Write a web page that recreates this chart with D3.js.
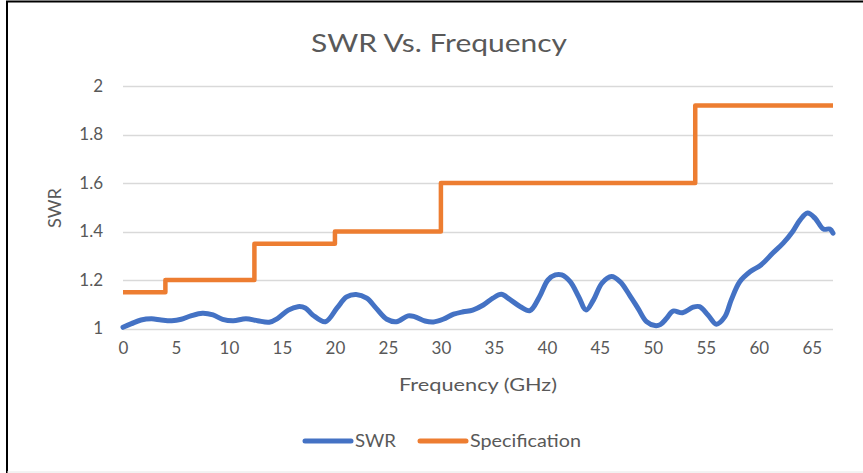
<!DOCTYPE html>
<html>
<head>
<meta charset="utf-8">
<script src="https://cdn.jsdelivr.net/npm/d3@7"></script>
<style>
  body { margin: 0; background: #fff; }
  text { font-family: Lato, "Open Sans", sans-serif; fill: #595959; }
</style>
</head>
<body>
<script>
const swrFreq = [0, 0.8, 1.7, 2.7, 3.6, 4.6, 5.5, 6.4, 7.5, 8.5, 9.4, 10.4, 11.6, 12.7, 13.8, 14.6,
  15.6, 16.5, 17.2, 17.9, 19.1, 20.2, 21.1, 22.0, 23.0, 23.9, 24.9, 25.8, 26.9, 27.5, 28.5, 29.3,
  30.2, 31.2, 32.1, 33.0, 34.0, 34.9, 35.7, 36.5, 37.5, 38.4, 39.3, 40.1, 40.8, 41.4, 42.2, 43.0,
  43.7, 44.4, 45.2, 46.1, 46.9, 47.8, 48.6, 49.4, 50.2, 50.7, 51.3, 51.9, 52.8, 53.8, 54.4, 55.2,
  56.0, 56.8, 57.4, 58.2, 59.2, 60.2, 61.3, 62.3, 63.2, 63.9, 64.6, 65.3, 66.1, 66.7, 67];
const swrVals = [1.005, 1.02, 1.035, 1.04, 1.035, 1.032, 1.038, 1.052, 1.063, 1.056, 1.038, 1.032, 1.04, 1.032, 1.026, 1.042,
  1.076, 1.09, 1.085, 1.056, 1.028, 1.085, 1.13, 1.14, 1.125, 1.083, 1.038, 1.028, 1.052, 1.049, 1.031, 1.027,
  1.038, 1.059, 1.069, 1.076, 1.097, 1.125, 1.141, 1.12, 1.09, 1.074, 1.131, 1.2, 1.221, 1.221, 1.193, 1.131,
  1.076, 1.118, 1.187, 1.214, 1.193, 1.138, 1.083, 1.028, 1.012, 1.016, 1.042, 1.072, 1.065, 1.088, 1.09, 1.056,
  1.018, 1.049, 1.118, 1.193, 1.235, 1.262, 1.31, 1.352, 1.4, 1.448, 1.476, 1.455, 1.41, 1.41, 1.393];

// specification limit: level holds from each edge to the next
const specEdges = [0, 4, 12.4, 20, 30, 54, 67];
const specLevels = [1.15, 1.2, 1.35, 1.4, 1.6, 1.92, 1.92];

const xTicks = [0, 5, 10, 15, 20, 25, 30, 35, 40, 45, 50, 55, 60, 65];
const yTicks = [1, 1.2, 1.4, 1.6, 1.8, 2];

const w = 863;
const h = 473;

const svg = d3.select("body")
  .append("svg")
  .attr("width", w)
  .attr("height", h);

// outer frame (black top / left edge, faint bottom)
svg.append("line").attr("x1", 6).attr("x2", w).attr("y1", 1.5).attr("y2", 1.5)
  .attr("stroke", "#000").attr("stroke-width", 2);
svg.append("line").attr("x1", 7).attr("x2", 7).attr("y1", 1).attr("y2", h)
  .attr("stroke", "#000").attr("stroke-width", 2);
svg.append("line").attr("x1", 7).attr("x2", w).attr("y1", 472).attr("y2", 472)
  .attr("stroke", "#e6e6e6").attr("stroke-width", 1);

const xScale = d3.scaleLinear()
  .domain([0, 67])
  .range([123, 833]);

const yScale = d3.scaleLinear()
  .domain([1, 2])
  .range([328.5, 86]);

// gridlines
svg.append("g")
  .selectAll("line")
  .data(yTicks)
  .enter()
  .append("line")
  .attr("x1", xScale(0))
  .attr("x2", xScale(67))
  .attr("y1", d => Math.round(yScale(d)) + 0.5)
  .attr("y2", d => Math.round(yScale(d)) + 0.5)
  .attr("stroke", "#d9d9d9")
  .attr("stroke-width", 1.5);

// y axis labels
const yAxis = d3.axisLeft(yScale)
  .tickValues(yTicks)
  .tickSize(0)
  .tickPadding(0)
  .tickFormat(d3.format("~g"));
const yAxisGroup = svg.append("g")
  .attr("transform", "translate(103, 0)")
  .call(yAxis);
yAxisGroup.select(".domain").remove();
yAxisGroup.selectAll("text")
  .attr("font-size", 17)
  .style("font-family", "Lato, sans-serif")
  .attr("fill", "#595959");

// x axis labels
const xAxis = d3.axisBottom(xScale)
  .tickValues(xTicks)
  .tickSize(0)
  .tickPadding(0);
const xAxisGroup = svg.append("g")
  .attr("transform", "translate(0, 342)")
  .call(xAxis);
xAxisGroup.select(".domain").remove();
xAxisGroup.selectAll("text")
  .attr("font-size", 17)
  .style("font-family", "Lato, sans-serif")
  .attr("fill", "#595959");

// specification line
const specLine = d3.line()
  .x((d, i) => xScale(specEdges[i]))
  .y(d => yScale(d))
  .curve(d3.curveStepAfter);

svg.append("path")
  .datum(specLevels)
  .attr("d", specLine)
  .attr("fill", "none")
  .attr("stroke", "#ed7d31")
  .attr("stroke-width", 4.5)
  .attr("stroke-linejoin", "round");

// SWR line
const swrLine = d3.line()
  .x((d, i) => xScale(swrFreq[i]))
  .y(d => yScale(d))
  .curve(d3.curveCatmullRom);

svg.append("path")
  .datum(swrVals)
  .attr("d", swrLine)
  .attr("fill", "none")
  .attr("stroke", "#4472c4")
  .attr("stroke-width", 5)
  .attr("stroke-linejoin", "round")
  .attr("stroke-linecap", "round");

// the source text is a wide face, so stretch to its width
function wideText(x, y, size, len, str) {
  return svg.append("text")
    .attr("x", x)
    .attr("y", y)
    .attr("font-size", size)
    .attr("textLength", len)
    .attr("lengthAdjust", "spacingAndGlyphs")
    .text(str);
}

// title
wideText(311, 52, 25.5, 256, "SWR Vs. Frequency");

// axis titles
wideText(399, 391, 18, 158, "Frequency (GHz)");

svg.append("text")
  .attr("transform", "translate(61, 208) rotate(-90)")
  .attr("text-anchor", "middle")
  .attr("font-size", 17)
  .attr("textLength", 40)
  .attr("lengthAdjust", "spacingAndGlyphs")
  .text("SWR");

// legend
const legendItems = [
  { name: "SWR", color: "#4472c4", x: 303, len: 41 },
  { name: "Specification", color: "#ed7d31", x: 418, len: 111 }
];
legendItems.forEach(item => {
  svg.append("line")
    .attr("x1", item.x + 2)
    .attr("x2", item.x + 48)
    .attr("y1", 441)
    .attr("y2", 441)
    .attr("stroke", item.color)
    .attr("stroke-width", 5)
    .attr("stroke-linecap", "round");
  wideText(item.x + 52, 447, 17.5, item.len, item.name);
});
</script>
</body>
</html>
